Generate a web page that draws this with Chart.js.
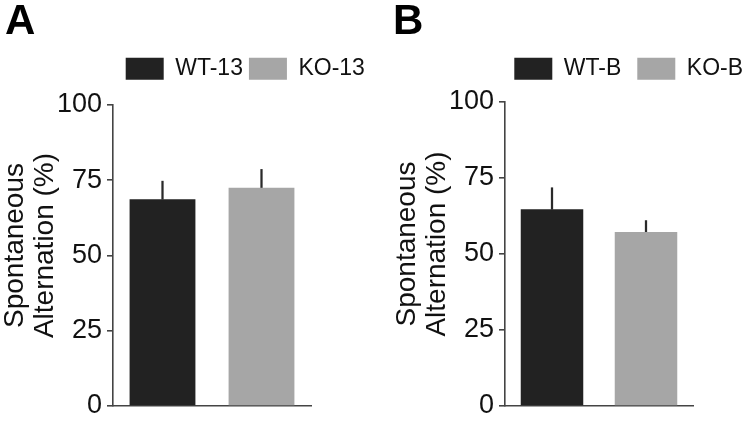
<!DOCTYPE html>
<html>
<head>
<meta charset="utf-8">
<script src="https://cdn.jsdelivr.net/npm/chart.js@4.4.1/dist/chart.umd.min.js"></script>
<style>
  body { margin: 0; background: #fff; }
  #wrap { position: relative; width: 745px; height: 422px; overflow: hidden; }
  canvas { position: absolute; top: 0; }
  .tag { position: absolute; font: bold 42px "Liberation Sans", Arial, sans-serif; color: #000; line-height: 1; }
</style>
</head>
<body>
<div id="wrap">
  <canvas id="chartA" width="372" height="422" style="left:0"></canvas>
  <canvas id="chartB" width="373" height="422" style="left:372px"></canvas>
  <div class="tag" style="left:5px; top:-1px">A</div>
  <div class="tag" style="left:393px; top:-1px">B</div>
</div>
<script>
let groupsA = ['WT-13', 'KO-13'];
let meansA = [68.7, 72.5];
let errA = [6.0, 6.1];

let groupsB = ['WT-B', 'KO-B'];
let meansB = [64.7, 57.2];
let errB = [7.1, 3.8];

let yTicks = [0, 25, 50, 75, 100];
let yTitle = ['Spontaneous', 'Alternation (%)'];
let barColors = ['#222222', '#a6a6a6'];

Chart.defaults.font.family = '"Liberation Sans", Arial, sans-serif';
Chart.defaults.color = '#111';

// puts the legend at a fixed spot and nudges the y title up a little
const panelTweaks = {
	id: 'panelTweaks',
	afterLayout(chart, args, opts) {
		let lg = chart.legend;
		let w = lg.width, h = lg.height;
		lg.left = opts.x;
		lg.right = opts.x + w;
		lg.top = opts.y;
		lg.bottom = opts.y + h;

		let ys = chart.scales.y;
		if (!ys._nudged) {
			let base = ys.drawTitle;
			ys.drawTitle = function () {
				this.ctx.save();
				this.ctx.translate(0, opts.titleDy);
				base.call(this);
				this.ctx.restore();
			};
			ys._nudged = true;
		}
	}
};

function makePanel(id, groups, means, errs, cfg) {
	let ctx = document.getElementById(id).getContext('2d');
	let datasets = groups.map((g, i) => ({
		label: g,
		data: groups.map((_, j) => (j === i ? means[i] : null)),
		backgroundColor: barColors[i],
		borderWidth: 0,
		grouped: false,
		categoryPercentage: 1,
		barPercentage: 0.665
	}));
	datasets.push({
		label: 'sem',
		data: means.map((m, i) => [m, m + errs[i]]),
		backgroundColor: '#2a2a2a',
		borderWidth: 0,
		grouped: false,
		barThickness: 1.6
	});

	return new Chart(ctx, {
		type: 'bar',
		data: {
			labels: groups,
			datasets: datasets
		},
		plugins: [panelTweaks],
		options: {
			responsive: false,
			animation: false,
			layout: {
				padding: { left: 0, right: cfg.padRight, top: cfg.padTop, bottom: 16 }
			},
			scales: {
				x: {
					ticks: { display: false, padding: 0 },
					grid: { display: false, drawTicks: false },
					border: { display: true, color: '#444', width: 1.6 }
				},
				y: {
					min: 0,
					max: 100,
					afterBuildTicks: (s) => { s.ticks = yTicks.map(v => ({ value: v })); },
					afterFit: (s) => { s.width = cfg.axisX; },
					ticks: {
						padding: 5,
						color: '#111',
						font: { size: 27, lineHeight: 0.8 }
					},
					grid: {
						drawOnChartArea: false,
						drawTicks: true,
						tickLength: 6,
						color: '#444',
						lineWidth: 1.6
					},
					border: { display: true, color: '#444', width: 1.6 },
					title: {
						display: true,
						text: yTitle,
						color: '#111',
						font: { size: 28, lineHeight: 1.08 },
						padding: { top: cfg.titlePad, bottom: 0 }
					}
				}
			},
			plugins: {
				tooltip: { enabled: false },
				legend: {
					position: 'top',
					align: 'start',
					labels: {
						filter: (item) => item.datasetIndex < groups.length,
						boxWidth: 38,
						boxHeight: 22,
						padding: cfg.legendPad,
						color: '#111',
						font: { size: 23 }
					}
				},
				panelTweaks: { x: cfg.legendX, y: cfg.legendY, titleDy: -10 }
			}
		}
	});
}

makePanel('chartA', groupsA, meansA, errA, {
	axisX: 113, padRight: 61, padTop: 66, titlePad: 0,
	legendPad: 6, legendX: 119.7, legendY: 51.2
});

makePanel('chartB', groupsB, meansB, errB, {
	axisX: 133, padRight: 52, padTop: 53, titlePad: 20,
	legendPad: 16, legendX: 126.3, legendY: 41.2
});
</script>
</body>
</html>
